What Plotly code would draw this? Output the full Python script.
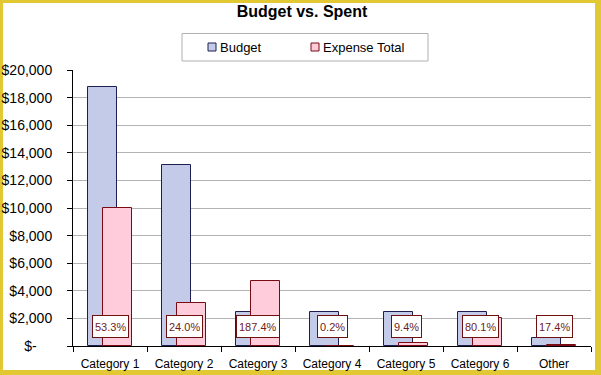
import plotly.graph_objects as go

categories = ["Category 1", "Category 2", "Category 3", "Category 4",
              "Category 5", "Category 6", "Other"]
budget = [18750, 13100, 2500, 2500, 2500, 2500, 550]
expense_total = [10000, 3150, 4685, 5, 235, 2002, 95.5]
y_tick_values = [0, 2000, 4000, 6000, 8000, 10000, 12000, 14000, 16000, 18000, 20000]
y_tick_labels = ["$-\u00a0\u00a0\u00a0\u00a0", "$2,000", "$4,000", "$6,000", "$8,000",
                 "$10,000", "$12,000", "$14,000", "$16,000", "$18,000", "$20,000"]
series_names = ["Budget", "Expense Total"]
series_fill = ["#C3CBE8", "#FFCCDC"]
series_line = ["#1E1E50", "#7A0A14"]
label_level = 1400

W, H = 601, 375
ML, MR, MT, MB = 73, 10, 70, 29
PW, PH = W - ML - MR, H - MT - MB


def px_x(x):
    return (x - ML) / PW


def px_y(y):
    return (H - MB - y) / PH


FONT = "Liberation Sans, Arial, sans-serif"

fig = go.Figure()
for name, vals, fc, lc, off in zip(series_names, [budget, expense_total],
                                   series_fill, series_line, [-0.295, -0.095]):
    fig.add_trace(go.Bar(
        x=categories, y=vals, name=name, showlegend=False,
        width=0.39, offset=off,
        marker=dict(color=fc, line=dict(color=lc, width=1)),
    ))

for c, b, e in zip(categories, budget, expense_total):
    fig.add_annotation(
        x=c, y=label_level, xref="x", yref="y",
        text=f"{e / b * 100:.1f}%", showarrow=False,
        font=dict(family=FONT, size=11, color="#6E1C1C"),
        bgcolor="white", bordercolor="#6E1010", borderwidth=1, borderpad=2,
        height=17, align="center", valign="middle",
    )

# yellow frame with white interior
fig.add_shape(type="rect", xref="paper", yref="paper", layer="below",
              x0=px_x(3), x1=px_x(595), y0=px_y(370), y1=px_y(3),
              fillcolor="white", line=dict(width=0))

# legend box drawn by hand (to match the compact swatch/text spacing)
fig.add_shape(type="rect", xref="paper", yref="paper",
              x0=px_x(182), x1=px_x(428), y0=px_y(61), y1=px_y(33.5),
              fillcolor="white", line=dict(color="#B0B0B0", width=1))
for name, fc, lc, sx in zip(series_names, series_fill, series_line, [208, 311]):
    fig.add_shape(type="rect", xref="paper", yref="paper",
                  x0=px_x(sx), x1=px_x(sx + 8), y0=px_y(51), y1=px_y(43),
                  fillcolor=fc, line=dict(color=lc, width=1))
    fig.add_annotation(x=px_x(sx + 10), y=px_y(47), xref="paper", yref="paper",
                       xanchor="left", yanchor="middle", showarrow=False,
                       text=name, font=dict(family=FONT, size=13, color="black"))

fig.update_layout(
    width=W, height=H, autosize=False,
    margin=dict(l=ML, r=MR, t=MT, b=MB, pad=0),
    paper_bgcolor="#E2C934", plot_bgcolor="white",
    font=dict(family=FONT, size=12, color="black"),
    title=dict(text="<b>Budget vs. Spent</b>", x=302 / W, xanchor="center",
               y=1 - 11 / H, yanchor="middle",
               font=dict(family=FONT, size=16, color="black")),
    showlegend=False,
    bargap=0, barmode="overlay",
    xaxis=dict(type="category", categoryorder="array", categoryarray=categories,
               showline=True, linecolor="black", linewidth=1,
               ticks="outside", tickson="boundaries", ticklen=5, tickcolor="black",
               tickfont=dict(family=FONT, size=12, color="black"),
               ticklabelstandoff=7, automargin=False,
               showgrid=False, zeroline=False, fixedrange=True),
    yaxis=dict(range=[0, 20000], tickvals=y_tick_values, ticktext=y_tick_labels,
               showline=True, linecolor="black", linewidth=1,
               ticks="outside", ticklen=5, tickcolor="black",
               tickfont=dict(family=FONT, size=14, color="black"),
               ticklabelstandoff=12, automargin=False,
               showgrid=True, gridcolor="#B4B4B4", gridwidth=1,
               zeroline=False, fixedrange=True),
)

fig.write_html("out.html", config={"displayModeBar": False},
               post_script="document.body.style.margin='0';document.body.style.overflow='hidden';")
